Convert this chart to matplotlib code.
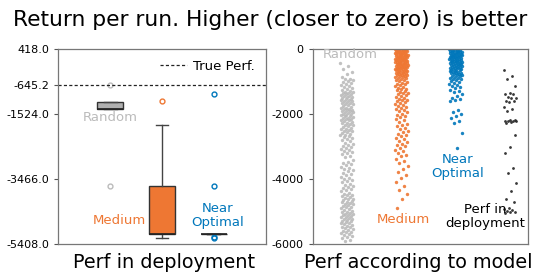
import matplotlib
matplotlib.use("Agg")
import matplotlib.pyplot as plt
import numpy as np

plt.rcParams['font.family'] = ['DejaVu Sans']
plt.rcParams['axes.unicode_minus'] = False

# ---------------- data ----------------
groups = ["Random", "Medium", "Near\nOptimal"]
colors = ["#BBBBBB", "#EE7733", "#0077BB"]
box_faces = ["#B0B0B0", "#EE7733", "#0077BB"]

# left panel: box statistics
box_q1 = [-1360, -5119, -5119]
box_med = [-1360, -5119, -5119]
box_q3 = [-1163, -3678, -5119]
box_lo = [-1360, -5220, -5119]
box_hi = [-1163, -1858, -5119]
box_fliers = [[-644, -3678], [-1142], [-924, -3678, -5208, -5220]]

true_perf = -645.2
left_ticks = [418.0, -645.2, -1524.0, -3466.0, -5408.0]

# right panel: returns predicted by the model
model_random = [-425, -520, -610, -700, -780, -860,
                -905, -930, -960, -990, -1020, -1050, -1075, -1100, -1130, -1160, -1190, -1220, -1250, -1285,
                -1305, -1320, -1340, -1355, -1375, -1390, -1410, -1430, -1445, -1465, -1480, -1500, -1520,
                -1535, -1555, -1570, -1590, -1610, -1625, -1645, -1660, -1680, -1700, -1720, -1745, -1770,
                -1800, -1815, -1830, -1850, -1865, -1880, -1900, -1915, -1935, -1950, -1970, -1985, -2000,
                -2020, -2035, -2055, -2070, -2090, -2105, -2120, -2140, -2160, -2175, -2195, -2215, -2235,
                -2260, -2285,
                -2305, -2330, -2350, -2375, -2395, -2420, -2445, -2465, -2490, -2510, -2535, -2560, -2580,
                -2605, -2630, -2655, -2680, -2705, -2740, -2775,
                -2810, -2840, -2875, -2905, -2940, -2970, -3000, -3035, -3065, -3100, -3130, -3165, -3200,
                -3240, -3280,
                -3330, -3400, -3470,
                -3510, -3545, -3580, -3620, -3655, -3690, -3730, -3765, -3800, -3840, -3880, -3925, -3970,
                -4005, -4040, -4070, -4105, -4140, -4170, -4205, -4240, -4275, -4310, -4345, -4380, -4415,
                -4450, -4485,
                -4505, -4530, -4550, -4575, -4600, -4620, -4645, -4670, -4690, -4715, -4735, -4760, -4780,
                -4805, -4825, -4850, -4870, -4895, -4920, -4945, -4970,
                -5000, -5020, -5040, -5060, -5080, -5100, -5120, -5140, -5160, -5180, -5200, -5220, -5240,
                -5260, -5280, -5300, -5320, -5340, -5360, -5385, -5410, -5435, -5460, -5485,
                -5510, -5535, -5560, -5590, -5615, -5640, -5665, -5695, -5720, -5750, -5785, -5820, -5860,
                -5910]

model_medium = [-5, -14, -22, -30, -38, -47, -55, -63, -71, -80, -88, -97, -105, -114, -122, -130,
                -139, -148, -156, -165, -173, -182, -190, -199, -208, -216, -225, -233, -242, -251,
                -259, -268, -277, -285, -294, -303, -311, -320, -329, -338, -346, -355, -364, -373,
                -382, -390, -399, -408, -417, -426, -435, -444, -453, -462, -471, -480, -489, -498,
                -508, -517, -526, -536, -545, -555, -564, -574, -584, -593, -603, -613, -623, -633,
                -643, -654, -664, -675, -686, -697, -708, -720, -731, -743, -755, -768, -781, -794,
                -808, -822, -837, -852, -868, -885, -903, -922, -942, -963, -985, -1008, -1032, -1058,
                -1085, -1115, -1148,
                -1170, -1195, -1215, -1240, -1262, -1290, -1315, -1340, -1362, -1390, -1418, -1445,
                -1470, -1500, -1525, -1555, -1580, -1610, -1640, -1668, -1700, -1730, -1760, -1790,
                -1822, -1855, -1885, -1918, -1950, -1985, -2020, -2055, -2095, -2140, -2190,
                -2240, -2290, -2335, -2380, -2420, -2465, -2510, -2555, -2600, -2640, -2685, -2730,
                -2775, -2815, -2860, -2905, -2950, -2995, -3040, -3090, -3140, -3190, -3245, -3300,
                -3370, -3440, -3520, -3600, -3690, -3780, -3870, -3960, -4080, -4200, -4330, -4470,
                -4620, -4880]

model_near = [-4, -13, -22, -31, -40, -49, -58, -67, -76, -85, -94, -103, -112, -121, -130, -139,
              -148, -157, -166, -175, -184, -193, -202, -211, -220, -229, -238, -247, -256, -265,
              -274, -283, -292, -301, -310, -320, -330, -340, -350, -360, -370, -380, -390, -400,
              -410, -420, -430, -440, -450, -460, -470, -481, -492, -503, -514, -525, -536, -547,
              -558, -570, -582, -594, -606, -618, -630, -642, -655, -668, -681, -694, -707, -721,
              -735, -749, -763, -778, -793, -808, -824, -840, -857, -874, -892, -910, -930, -950,
              -975, -1000, -1030, -1060, -1095, -1130, -1170, -1210, -1250, -1290, -1330, -1380,
              -1440, -1500, -1530, -1560, -1610, -1860, -1920, -1990, -2060, -2130, -2200, -2270,
              -2590, -3050]

deploy = [-640, -812, -915, -1130, -1356, -1377, -1387, -1480, -1490, -1510, -1582, -1592, -1633,
          -1787, -1838, -1890, -2180, -2195, -2205, -2210, -2215, -2220, -2230, -2280, -2640, -3000,
          -3205, -3666, -3820, -4128, -4365, -4610, -4694, -4878, -4920, -4950, -4975, -5000, -5010,
          -5030]

right_series = [model_random, model_medium, model_near, deploy]
right_colors = ["#BBBBBB", "#EE7733", "#0077BB", "#222222"]

# ---------------- figure ----------------
fig = plt.figure(figsize=(5.4, 2.73), dpi=100)
ax1 = fig.add_axes([0.108, 0.106, 0.384, 0.714])
ax2 = fig.add_axes([0.579, 0.106, 0.399, 0.714])

fig.text(0.5, 1 - 20 / 273, "Return per run. Higher (closer to zero) is better",
         ha="center", va="center", fontsize=15.7)

# left: boxplots
stats = []
for i in range(3):
    stats.append(dict(med=box_med[i], q1=box_q1[i], q3=box_q3[i],
                      whislo=box_lo[i], whishi=box_hi[i], fliers=box_fliers[i]))
bp = ax1.bxp(stats, positions=[1, 2, 3], widths=0.5, patch_artist=True,
             medianprops=dict(color="#222222", lw=1.2),
             whiskerprops=dict(color="#444444", lw=1),
             capprops=dict(color="#444444", lw=1),
             boxprops=dict(lw=1))
for patch, fc in zip(bp["boxes"], box_faces):
    patch.set_facecolor(fc)
    patch.set_edgecolor("#333333")
for fl, c in zip(bp["fliers"], colors):
    fl.set_marker("o")
    fl.set_markerfacecolor("none")
    fl.set_markeredgecolor(c)
    fl.set_markersize(3.5)
    fl.set_markeredgewidth(1)

ax1.axhline(true_perf, color="#222222", lw=0.9, dashes=(2.5, 1.8), label="True Perf.")
ax1.legend(loc="upper right", frameon=False, fontsize=9.5, handlelength=2.0,
           borderaxespad=0.4, handletextpad=0.5)
ax1.set_xlim(0, 4)
ax1.set_ylim(-5408, 418)
ax1.set_yticks(left_ticks)
ax1.set_yticklabels(["%.1f" % v for v in left_ticks])
ax1.set_xticks([])

ax1.text(1, -1619, "Random", color="#BBBBBB", ha="center", va="center", fontsize=9.5)
ax1.text(1.18, -4692, "Medium", color="#EE7733", ha="center", va="center", fontsize=9.5)
ax1.text(3.07, -4543, "Near\nOptimal", color="#0077BB", ha="center", va="center", fontsize=9.5,
         linespacing=1.1)

# right: strip plots
for k, (vals, c) in enumerate(zip(right_series, right_colors)):
    n = len(vals)
    jit = ((np.arange(n) * 0.6180339887) % 1.0 - 0.5) * 0.24
    s = 6 if k < 3 else 4
    ax2.scatter(k + jit, vals, s=s, color=c, alpha=0.9, linewidths=0)

ax2.set_xlim(-0.63, 3.33)
ax2.set_ylim(-6000, 0)
ax2.set_yticks([0, -2000, -4000, -6000])
ax2.set_xticks([])

ax2.text(0.06, -175, "Random", color="#BBBBBB", ha="center", va="center", fontsize=9.5)
ax2.text(1.03, -5258, "Medium", color="#EE7733", ha="center", va="center", fontsize=9.5)
ax2.text(2.03, -3625, "Near\nOptimal", color="#0077BB", ha="center", va="center", fontsize=9.5,
         linespacing=1.1)
ax2.text(2.54, -5165, "Perf in\ndeployment", color="black", ha="center", va="center",
         fontsize=9.5, linespacing=1.1)

for ax in (ax1, ax2):
    ax.tick_params(axis="y", labelsize=8, length=3, color="#555555")
    for sp in ax.spines.values():
        sp.set_color("#777777")
        sp.set_linewidth(0.9)

fig.text(164 / 540, 1 - 262 / 273, "Perf in deployment", ha="center", va="center", fontsize=13.9)
fig.text(418 / 540, 1 - 262 / 273, "Perf according to model", ha="center", va="center", fontsize=13.9)

fig.savefig("out.png", dpi=100)
